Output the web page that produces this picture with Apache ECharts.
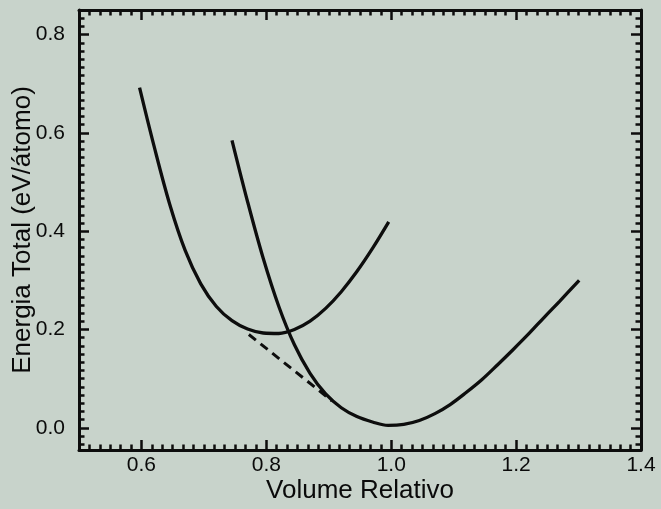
<!DOCTYPE html>
<html>
<head>
<meta charset="utf-8">
<script src="https://cdn.jsdelivr.net/npm/echarts@6/dist/echarts.min.js"></script>
<style>
  html, body { margin: 0; padding: 0; background: #c8d3cb; }
  #chart { width: 661px; height: 509px; }
</style>
</head>
<body>
<div id="chart"></div>
<script>
// Tick labels
const xMajor = [0.6, 0.8, 1.0, 1.2, 1.4];
const yMajor = [0.0, 0.2, 0.4, 0.6, 0.8];

// Curve A (left curve)
const volumeA = [0.597, 0.62, 0.645, 0.67, 0.695, 0.72, 0.745, 0.77, 0.795, 0.82, 0.845, 0.87, 0.895, 0.92, 0.945, 0.97, 0.996];
const energyA = [0.692, 0.574, 0.456, 0.361, 0.293, 0.247, 0.218, 0.201, 0.193, 0.192, 0.200, 0.217, 0.243, 0.277, 0.318, 0.365, 0.419];

// Curve B (right curve)
const volumeB = [0.745, 0.77, 0.795, 0.82, 0.845, 0.87, 0.895, 0.92, 0.945, 0.97, 0.995, 1.02, 1.045, 1.07, 1.095, 1.12, 1.145, 1.17, 1.195, 1.22, 1.245, 1.27, 1.301];
const energyB = [0.585, 0.460, 0.345, 0.247, 0.169, 0.111, 0.069, 0.041, 0.023, 0.012, 0.005, 0.007, 0.015, 0.029, 0.048, 0.072, 0.098, 0.128, 0.159, 0.191, 0.225, 0.258, 0.300];

// Common tangent (dashed)
const volumeT = [0.772, 0.905];
const energyT = [0.190, 0.055];

const xMin = 0.5, xMax = 1.4, yMin = -0.045, yMax = 0.85;
const minorPerMajor = 12;

function minorTicks(lo, hi, majorStep, n) {
  const out = [];
  const step = majorStep / n;
  const kLo = Math.ceil(lo / step), kHi = Math.floor(hi / step);
  for (let k = kLo; k <= kHi; k++) {
    if (k % n === 0) continue;
    const v = Math.round(k * step * 1e6) / 1e6;
    if (v <= lo + 1e-6 || v >= hi - 1e-6) continue;
    out.push(v);
  }
  return out;
}
const xMinor = minorTicks(xMin, xMax, 0.2, minorPerMajor);
const yMinor = minorTicks(yMin, yMax, 0.2, minorPerMajor);

const zip = (a, b) => a.map((v, i) => [v, b[i]]);
const INK = '#0d0d0d';
const FONT = '"Liberation Sans", Arial, Helvetica, sans-serif';

function axisPair(kind, pos, withLabels) {
  const isX = kind === 'x';
  const major = isX ? xMajor : yMajor;
  const minor = isX ? xMinor : yMinor;
  const base = { type: 'value', min: isX ? xMin : yMin, max: isX ? xMax : yMax, position: pos, splitLine: { show: false } };
  const main = Object.assign({}, base, {
    axisLine: { show: true, onZero: false, lineStyle: { color: INK, width: 3 } },
    axisTick: { show: true, inside: true, length: 10, customValues: major, lineStyle: { color: INK, width: 2.5 } },
    axisLabel: withLabels ? {
      show: true, customValues: major, formatter: v => Number(v).toFixed(1),
      fontSize: 21, color: '#0a0a0a', fontFamily: FONT, margin: isX ? 5 : 14
    } : { show: false }
  });
  const sub = Object.assign({}, base, {
    axisLine: { show: false, onZero: false },
    axisTick: { show: true, inside: true, length: 5.5, customValues: minor, lineStyle: { color: INK, width: 2.5 } },
    axisLabel: { show: false }
  });
  return [main, sub];
}

const xAxes = axisPair('x', 'bottom', true).concat(axisPair('x', 'top', false));
const yAxes = axisPair('y', 'left', true).concat(axisPair('y', 'right', false));
Object.assign(xAxes[0], {
  name: 'Volume Relativo', nameLocation: 'middle', nameGap: 28, nameMoveOverlap: false,
  nameTextStyle: { fontSize: 26, color: '#0a0a0a', fontFamily: FONT }
});
Object.assign(yAxes[0], {
  name: 'Energia Total (eV/átomo)', nameLocation: 'middle', nameGap: 43, nameMoveOverlap: false,
  nameTextStyle: { fontSize: 26, color: '#0a0a0a', fontFamily: FONT }
});

const lineBase = { type: 'line', xAxisIndex: 0, yAxisIndex: 0, showSymbol: false, symbol: 'none', silent: true };

const option = {
  backgroundColor: '#c8d3cb',
  animation: false,
  grid: { left: 79, right: 20, top: 10, bottom: 59, containLabel: false, outerBoundsMode: 'none' },
  xAxis: xAxes,
  yAxis: yAxes,
  series: [
    Object.assign({}, lineBase, { data: zip(volumeA, energyA), smooth: 0.35, lineStyle: { color: INK, width: 3.3 } }),
    Object.assign({}, lineBase, { data: zip(volumeB, energyB), smooth: 0.35, lineStyle: { color: INK, width: 3.3 } }),
    Object.assign({}, lineBase, { data: zip(volumeT, energyT), lineStyle: { color: INK, width: 3, type: [9, 6] } })
  ]
};

const chart = echarts.init(document.getElementById('chart'), null, { renderer: 'canvas' });
chart.setOption(option);
</script>
</body>
</html>
